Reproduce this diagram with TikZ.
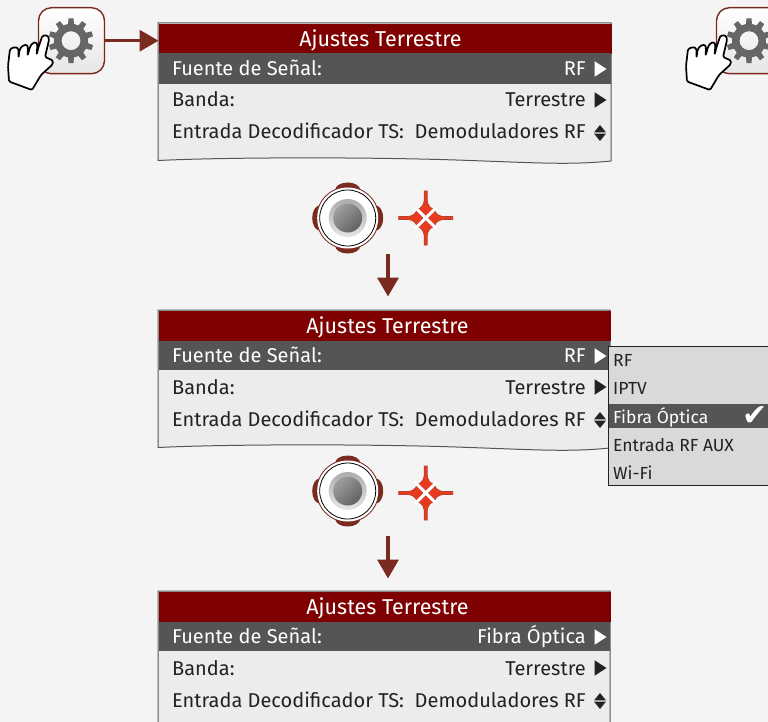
\documentclass[tikz,border=0pt]{standalone}
\usepackage{fontspec}
\setmainfont{Fira Sans}
\newfontfamily\symfont{DejaVu Sans}
\usetikzlibrary{arrows.meta,calc}
\definecolor{bgc}{HTML}{F4F4F4}
\definecolor{brownc}{HTML}{7A2A1E}
\definecolor{titlec}{HTML}{7F0000}
\definecolor{darkrow}{HTML}{555555}
\definecolor{panelc}{HTML}{EBEDED}
\definecolor{popc}{HTML}{D9D9D9}
\definecolor{inkc}{HTML}{222222}
\definecolor{gearc}{HTML}{666666}
\definecolor{redc}{HTML}{E83A1F}
\definecolor{redb}{HTML}{B5402E}
\tikzset{
  menutext/.style={inner sep=0pt,text=inkc,font=\fontsize{20}{22}\selectfont},
  lighttext/.style={menutext,text=white},
  poptext/.style={inner sep=0pt,text=inkc,anchor=base west,font=\fontsize{17.5}{20}\selectfont},
  titlebar/.style={fill=titlec,draw=none,minimum width=#1,minimum height=30pt,inner sep=0pt},
  titletext/.style={inner sep=0pt,text=white,font=\fontsize{21.5}{24}\selectfont,anchor=base},
  flowarrow/.style={draw=brownc,line width=3.5pt,-{Triangle[length=19pt,width=21pt,fill=brownc]}},
  iconbox/.style={draw=brownc,line width=1.4pt,rounded corners=13pt,minimum width=66pt,minimum height=66pt,inner sep=0pt,top color=white,bottom color=white!90!black},
}
\newcommand{\rtri}[3]{\fill[#3] (#1,#2-7.8) -- (#1+12,#2) -- (#1,#2+7.8) -- cycle;}
\newcommand{\updown}[2]{%
  \fill[inkc] (#1,#2-.6) -- (#1+6,#2-8) -- (#1+12,#2-.6) -- cycle;
  \fill[inkc] (#1,#2+.6) -- (#1+6,#2+8) -- (#1+12,#2+.6) -- cycle;}
% \menupanel{name}{top}{title centre x}{value}{panel right}{dark row bottom}
\newcommand{\menupanel}[6]{%
  \begin{scope}[shift={(0,#2)}]
    \path[fill=panelc,draw=darkrow,line width=1pt] (158,0) -- (#5,0) -- (#5,138)
      .. controls (570,142) and (540,140) .. (470,137.5)
      .. controls (380,134) and (230,134) .. (158,137.5) -- cycle;
    \node[titlebar=#5pt-158pt,anchor=north west] (#1title) at (158.5,0.5) {};
    \node[titletext] (#1head) at (#3,23.5) {Ajustes Terrestre};
    \fill[darkrow] (158.5,30.5) rectangle (#5,#6);
    \node[lighttext,anchor=base west] (#1a) at (172,52.5) {Fuente de Señal:};
    \node[lighttext,anchor=base east] (#1av) at (586,52.5) {#4};
    \rtri{594.5}{46}{white}
    \node[menutext,anchor=base west] (#1b) at (172,84) {Banda:};
    \node[menutext,anchor=base east] (#1bv) at (586,84) {Terrestre};
    \rtri{594.5}{77}{inkc}
    \node[menutext,anchor=base west] (#1c) at (172,116) {Entrada Decodificador TS:};
    \node[menutext,anchor=base east] (#1cv) at (586,116) {Demoduladores RF};
    \updown{594}{110}
  \end{scope}}
\newcommand{\seticon}[2]{%
  \node[iconbox] (#1) at (#2+71.5,40.7) {};
  \begin{scope}[shift={(#2+71,40.7)}]
    \fill[gearc,even odd rule] (8:17)
      \foreach \a in {18,54,...,342} {
        -- (\a-10:17) -- (\a-6.5:22.5) -- (\a+6.5:22.5) -- (\a+10:17)
      } -- cycle (0,0) circle (9.5);
  \end{scope}
  \begin{scope}[shift={(#2,0)}]
    \path[fill=white,draw=black,line width=1.7pt,line join=round,rounded corners=1.4pt]
      (9,81.5) -- (8,66) -- (10,49) -- (15,47) -- (18.5,48.5) -- (18.5,58) -- (19.5,50)
      -- (22,46) -- (27,44.5) -- (28,48) -- (27.5,56) -- (30,47)
      -- (32,43.5) -- (36,42) -- (37.5,45) -- (36.5,55) -- (38.5,47)
      -- (42.5,35.5) -- (48,35.5) -- (49,40) -- (45,57) -- (53,60.5) -- (52.5,64.5)
      -- (41,75) -- (32,90) -- cycle;
  \end{scope}}
\newcommand{\knob}[3]{%
  \begin{scope}[shift={(#2,#3)}]
    \fill[brownc] (0,0) circle (31.5);
    \fill[brownc] (0,-28) ellipse (12.5 and 7.5) (0,28) ellipse (12.5 and 7.5)
      (-28,0) ellipse (7.5 and 12.5) (28,0) ellipse (7.5 and 12.5);
    \node[circle,fill=white,minimum size=61pt,inner sep=0pt] (#1) at (0,0) {};
    \draw[black,line width=.8pt] (0,0) circle (28);
    \shade[top color=black!32,bottom color=white!90!black] (0,0) circle (19);
    \shade[shading=axis,left color=black!38,right color=black!62,shading angle=45] (0,0) circle (14.5);
  \end{scope}}
\newcommand{\target}[3]{%
  \coordinate (#1) at (#2,#3);
  \begin{scope}[shift={(#2,#3)}]
    \foreach \r in {0,90,180,270}{
      \begin{scope}[rotate=\r]
        \path[fill=redc,draw=redb,line width=.6pt] (0,-2.5) -- (7.5,-9)
          .. controls (4,-10.5) and (2,-13) .. (1.5,-18) -- (1.5,-27) -- (-1.5,-27) -- (-1.5,-18)
          .. controls (-2,-13) and (-4,-10.5) .. (-7.5,-9) -- cycle;
      \end{scope}}
    \draw[white,line width=3pt] (-10.5,-10.5) -- (10.5,10.5) (-10.5,10.5) -- (10.5,-10.5);
  \end{scope}}
\begin{document}
\begin{tikzpicture}[x=1pt,y=-1pt]
\path[use as bounding box] (0,0) rectangle (768,722);
\clip (0,0) rectangle (768,722);
\fill[bgc] (0,0) rectangle (768,722);
\seticon{gearA}{0}
\seticon{gearB}{678}
\menupanel{p}{23}{380.5}{RF}{611}{61.5}
\menupanel{q}{310}{387.5}{RF}{610}{60}
\menupanel{r}{591}{387.5}{Fibra Óptica}{610}{60}
\draw[flowarrow] (gearA.east) -- (gearA.east -| ptitle.west);
\knob{kA}{347.7}{218}
\target{tA}{425.7}{218}
\coordinate (s1) at (388,254);
\coordinate (e1) at (388,296.5);
\draw[flowarrow] (s1) -- (e1);
\knob{kB}{347.7}{491}
\target{tB}{425.7}{493}
\coordinate (s2) at (388,536);
\coordinate (e2) at (388,578.5);
\draw[flowarrow] (s2) -- (e2);
\path[fill=popc,draw=inkc,line width=1pt] (608,346) rectangle (775,485);
\fill[darkrow] (608.5,404) rectangle (775,428);
\node[poptext] (m1) at (613,366) {RF};
\node[poptext] (m2) at (613,394) {IPTV};
\node[poptext,text=white] (m3) at (613,423) {Fibra Óptica};
\node[poptext] (m4) at (613,451) {Entrada RF AUX};
\node[poptext] (m5) at (613,479) {Wi-Fi};
\node[inner sep=0pt,text=white,font=\symfont\fontsize{30}{32}\selectfont] (chk) at (755,416) {✔};
\end{tikzpicture}
\end{document}
